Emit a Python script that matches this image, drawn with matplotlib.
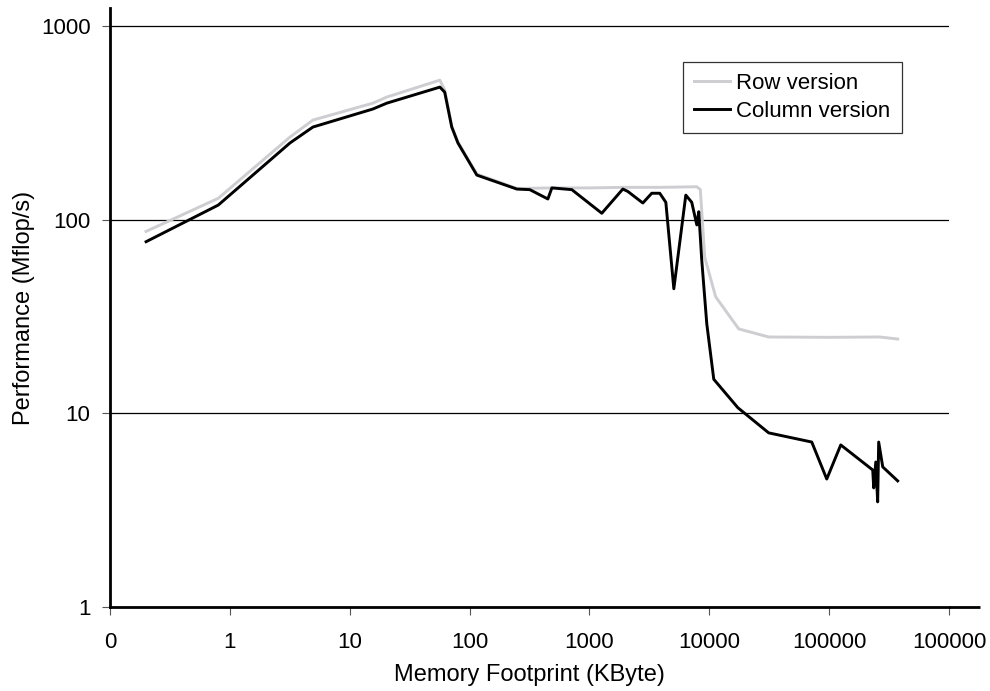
import matplotlib.pyplot as plt
from matplotlib.ticker import FixedLocator, NullLocator

plt.rcParams['font.family'] = ['Liberation Sans', 'DejaVu Sans']

# memory footprint (KByte) and performance (Mflop/s)
row_kb = [0.2, 0.8, 3.17, 4.93, 15.6, 20.4, 56.5, 62, 71, 80, 115, 248, 500,
          1000, 2000, 4000, 7870, 8420, 9160, 11300, 17600, 31300, 100000,
          264000, 373000]
row_perf = [87, 129, 267, 327, 400, 430, 526, 468, 305, 252, 172, 145, 146,
            146, 147, 147, 148, 143, 64, 40, 27.3, 24.8, 24.7, 24.8, 24.2]

col_kb = [0.2, 0.8, 3.17, 4.93, 15.6, 20.4, 56.5, 62, 71, 80, 115, 248, 318,
          450, 486, 713, 1268, 1900, 2090, 2790, 3310, 3860, 4340, 5060, 6370,
          7140, 7870, 8170, 8650, 9530, 10900, 17300, 31300, 71600, 95500,
          125000, 231000, 235500, 245000, 254000, 259000, 280000, 373000]
col_perf = [77, 119, 249, 301, 373, 400, 484, 456, 301, 249, 170, 144, 143,
            128, 146, 143, 108, 144, 140, 122, 137, 137, 123, 44, 134,
            123, 94, 110, 62, 29, 15, 10.7, 7.93, 7.11, 4.58,
            6.87, 5.10, 4.12, 5.61, 3.49, 7.11, 5.29, 4.48]

x_ticks = [0.1, 1, 10, 100, 1000, 10000, 100000, 1000000]
x_labels = ['0', '1', '10', '100', '1000', '10000', '100000', '100000']
y_ticks = [1, 10, 100, 1000]
y_labels = ['1', '10', '100', '1000']

fig = plt.figure(figsize=(9.9, 6.91), dpi=100)
ax = fig.add_axes([110 / 990, 1 - 607 / 691, (949 - 110) / 990, (607 - 8) / 691])

ax.plot(row_kb, row_perf, color='#cdcdd2', lw=2.1, label='Row version', zorder=3)
ax.plot(col_kb, col_perf, color='black', lw=2.1, label='Column version', zorder=4)

ax.set_xscale('log')
ax.set_yscale('log')
ax.set_xlim(0.1, 1000000)
ax.set_ylim(1, 1240)

ax.xaxis.set_major_locator(FixedLocator(x_ticks))
ax.xaxis.set_minor_locator(NullLocator())
ax.set_xticklabels(x_labels)
ax.yaxis.set_major_locator(FixedLocator(y_ticks))
ax.yaxis.set_minor_locator(NullLocator())
ax.set_yticklabels(y_labels)

for y in y_ticks[1:]:
    ax.axhline(y, color='black', lw=0.9, zorder=1)

for s in ['top', 'right']:
    ax.spines[s].set_visible(False)
for s in ['left', 'bottom']:
    ax.spines[s].set_linewidth(2)
    ax.spines[s].set_zorder(5)
# bottom axis line runs a little past the last tick
ax.plot([1, 1.037], [0, 0], transform=ax.transAxes, color='black', lw=2,
        clip_on=False, solid_capstyle='butt', zorder=5)

ax.tick_params(direction='out', length=6, width=0.8, color='#555555',
               labelsize=16)
ax.tick_params(axis='x', pad=12)
ax.tick_params(axis='y', pad=8)

ax.set_xlabel('Memory Footprint (KByte)', fontsize=17, labelpad=8)
ax.set_ylabel('Performance (Mflop/s)', fontsize=17, labelpad=4)

leg = ax.legend(loc='upper left', bbox_to_anchor=((683 - 110) / 839, 1 - (62 - 8) / 599),
                fontsize=16, frameon=True, fancybox=False, edgecolor='black',
                handlelength=1.6, handletextpad=0.3, borderpad=0.5,
                labelspacing=0.3, borderaxespad=0)
leg.get_frame().set_linewidth(0.9)

fig.savefig('out.png', dpi=100)
